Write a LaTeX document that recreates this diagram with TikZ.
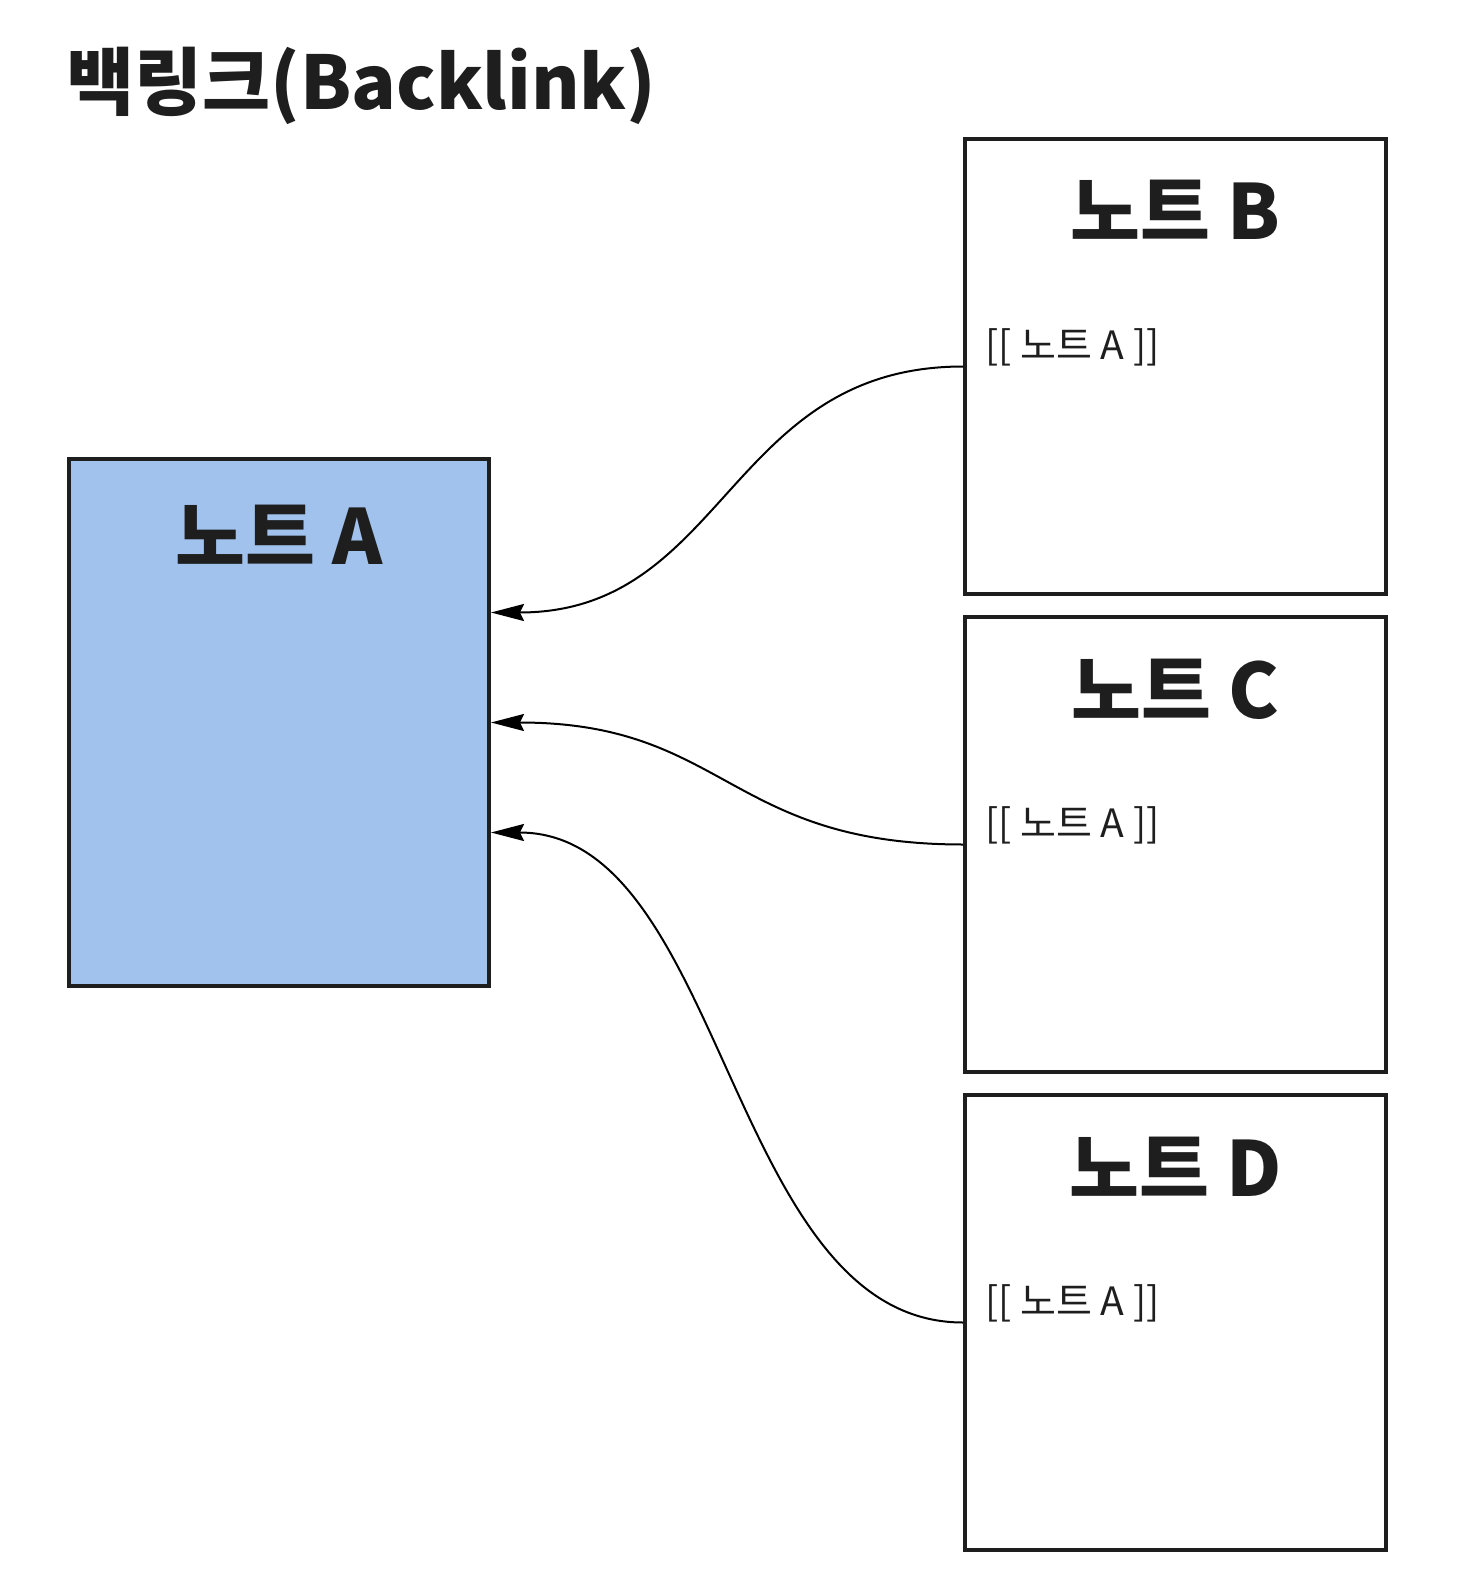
\documentclass[tikz,border=0pt]{standalone}
\usepackage{fontspec}
\setmainfont{Noto Sans CJK KR}
\usetikzlibrary{arrows.meta,positioning,calc}
\definecolor{inkgray}{HTML}{1E1E1E}
\definecolor{noteblue}{HTML}{A1C2ED}
\tikzset{
  note/.style={draw=inkgray,line width=4pt,minimum width=421pt,
    minimum height=455pt,inner sep=0pt},
  heading/.style={font=\fontsize{76}{90}\selectfont\bfseries,text=inkgray,
    anchor=base,inner sep=0pt},
  wikilink/.style={font=\fontsize{39}{48}\selectfont,text=inkgray,
    anchor=base west,inner sep=0pt},
  backlink/.style={-{Stealth[length=33pt,width=17pt,inset=4pt]},line width=2pt}
}

\begin{document}
\begin{tikzpicture}[x=1pt,y=1pt,node distance=19pt]
  \useasboundingbox (0,0) rectangle (1458,-1594);
  \node[heading,font=\fontsize{74}{90}\selectfont\bfseries,anchor=base west] (title) at (66,-110) {백링크(Backlink)};
  % target note
  \node[note,fill=noteblue,minimum width=420pt,minimum height=527pt] (na) at (279,-722.5) {};
  \node[heading] (ta) at ($(na.north)+(0,-107)$) {노트 A};
  % notes that link to A
  \node[note] (nb) at (1175.5,-366.5) {};
  \node[note,below=of nb] (nc) {};
  \node[note,below=of nc] (nd) {};
  \foreach \n/\l in {nb/B,nc/C,nd/D}{
    \node[heading] (t\n) at ($(\n.north)+(0,-103)$) {노트 \l};
    \node[wikilink] (l\n) at ($(\n.west)+(22,7)$) {[[ 노트 A ]]};
  }
  \draw[backlink] (nb.west) .. controls +(-235,0) and +(235,0) .. ([yshift=110pt]na.east);
  \draw[backlink] (nc.west) .. controls +(-235,0) and +(235,0) .. (na.east);
  \draw[backlink] (nd.west) .. controls +(-235,0) and +(235,0) .. ([yshift=-110pt]na.east);
\end{tikzpicture}
\end{document}
